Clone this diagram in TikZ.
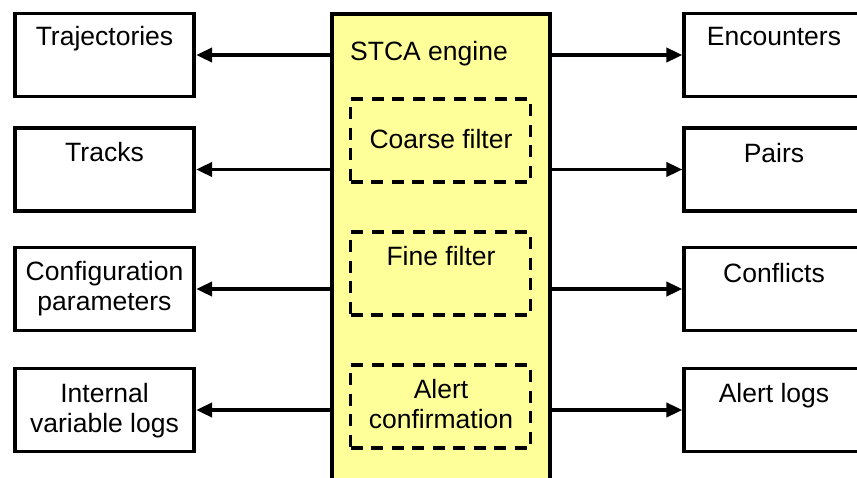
\documentclass[tikz,border=0pt]{standalone}
\usepackage{fontspec}
\setmainfont{Liberation Sans}
\usetikzlibrary{arrows.meta}
\definecolor{engfill}{HTML}{FFFF99}
\begin{document}
\begin{tikzpicture}[x=1pt,y=-1pt,
  box/.style={draw, line width=3.7pt, minimum width=179.5pt, minimum height=83pt, inner sep=0pt},
  dbox/.style={draw, line width=3.7pt, dash pattern=on 12pt off 8.5pt, minimum width=180pt, minimum height=83pt, inner sep=0pt},
  lbl/.style={font=\fontsize{26.5}{30}\selectfont, inner sep=0pt, anchor=base, align=center},
  arr/.style={line width=3.7pt, -{Triangle[length=16pt,width=14pt]}}]
\useasboundingbox (0,0) rectangle (857,477);
\clip (0,0) rectangle (857,477);
\fill[white] (0,0) rectangle (857,477);
% engine
\node[draw, fill=engfill, line width=3.7pt, minimum width=218.5pt, minimum height=490pt, inner sep=0pt] (engine) at (441,258.75) {};
\node[lbl, anchor=base west] (enginetxt) at (350,60) {STCA engine};
% dashed filters
\node[dbox] (coarse) at (440.5,140.5) {};
\node[dbox] (fine) at (440.5,273.5) {};
\node[dbox] (confirm) at (440.5,406.5) {};
\node[lbl] (coarsetxt) at (441,148) {Coarse filter};
\node[lbl] (finetxt) at (441,265) {Fine filter};
\node[lbl] (confirmtxt) at (441,428) {Alert\\confirmation};
% left boxes
\node[box] (traj) at (104.5,55) {};
\node[box] (tracks) at (104.5,169.5) {};
\node[box] (config) at (104.5,289) {};
\node[box] (ivlogs) at (104.5,410) {};
\node[lbl] (trajtxt) at (104.5,45) {Trajectories};
\node[lbl] (trackstxt) at (104.5,161) {Tracks};
\node[lbl] (configtxt) at (104.5,310) {Configuration\\parameters};
\node[lbl] (ivlogstxt) at (104.5,432) {Internal\\variable logs};
% right boxes
\node[box] (enc) at (774,55) {};
\node[box] (pairs) at (774,169.5) {};
\node[box] (confl) at (774,289) {};
\node[box] (alogs) at (774,410) {};
\node[lbl] (enctxt) at (774,45) {Encounters};
\node[lbl] (pairstxt) at (774,162) {Pairs};
\node[lbl] (confltxt) at (774,282) {Conflicts};
\node[lbl] (alogstxt) at (774,402) {Alert logs};
% arrows
\draw[arr] (traj.east -| engine.west) -- (traj.east);
\draw[arr] (tracks.east -| engine.west) -- (tracks.east);
\draw[arr] (config.east -| engine.west) -- (config.east);
\draw[arr] (ivlogs.east -| engine.west) -- (ivlogs.east);
\draw[arr] (enc.west -| engine.east) -- (enc.west);
\draw[arr] (pairs.west -| engine.east) -- (pairs.west);
\draw[arr] (confl.west -| engine.east) -- (confl.west);
\draw[arr] (alogs.west -| engine.east) -- (alogs.west);
\end{tikzpicture}
\end{document}
